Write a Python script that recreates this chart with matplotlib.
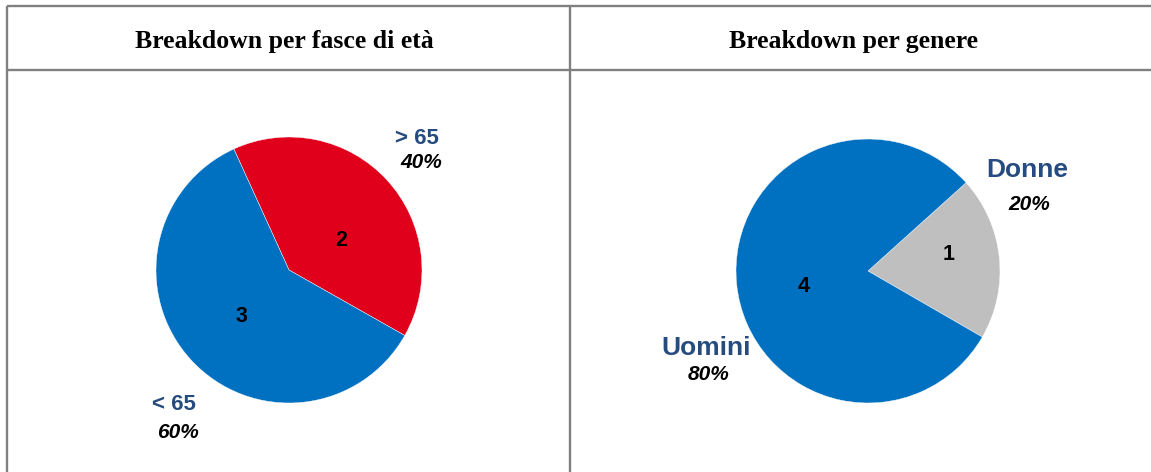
import matplotlib
matplotlib.use("Agg")
import matplotlib.pyplot as plt

# Data
age_categories = ["> 65", "< 65"]
age_values = [2, 3]
gender_categories = ["Donne", "Uomini"]
gender_values = [1, 4]
titles = ["Breakdown per fasce di età", "Breakdown per genere"]

age_colors = ["#E0001B", "#0070C0"]
gender_colors = ["#BFBFBF", "#0070C0"]
label_blue = "#264B7E"

W, H = 1151, 472
fig = plt.figure(figsize=(W / 100, H / 100), dpi=100)
ax = fig.add_axes([0, 0, 1, 1])
ax.set_xlim(0, W)
ax.set_ylim(0, H)
ax.set_aspect("equal")
ax.axis("off")

def Y(y):
    return H - y

# table lines
lc = "#808080"
lw = 1.7
ax.plot([7, W], [Y(6), Y(6)], color=lc, lw=lw, solid_capstyle="butt")
ax.plot([7, W], [Y(70), Y(70)], color=lc, lw=lw, solid_capstyle="butt")
ax.plot([7, 7], [Y(6), Y(H + 5)], color=lc, lw=lw, solid_capstyle="butt")
ax.plot([570, 570], [Y(6), Y(H + 5)], color=lc, lw=lw, solid_capstyle="butt")

serif = ["Liberation Serif", "DejaVu Serif"]
sans = ["Liberation Sans", "DejaVu Sans"]
ax.text(284, Y(48), titles[0], ha="center", va="baseline", fontsize=18.5,
        fontweight="bold", family=serif)
ax.text(854, Y(48), titles[1], ha="center", va="baseline", fontsize=18.5,
        fontweight="bold", family=serif)

# pies
ax.pie(age_values, colors=age_colors, startangle=114.5, counterclock=False,
       center=(289, Y(270)), radius=133, frame=True,
       wedgeprops=dict(linewidth=0.3, edgecolor="white"))
ax.pie(gender_values, colors=gender_colors, startangle=42, counterclock=False,
       center=(868, Y(271)), radius=132, frame=True,
       wedgeprops=dict(linewidth=0.3, edgecolor="white"))
ax.set_xlim(0, W)
ax.set_ylim(0, H)
ax.axis("off")

age_total = sum(age_values)
gender_total = sum(gender_values)

# value labels inside
value_pos_age = [(341, 240), (241, 316)]
for v, (x, y) in zip(age_values, value_pos_age):
    ax.text(x, Y(y), str(v), ha="center", va="center", fontsize=15.5,
            fontweight="bold", family=sans, color="black")
value_pos_gender = [(949, 254), (804, 287)]
for v, (x, y) in zip(gender_values, value_pos_gender):
    ax.text(x, Y(y), str(v), ha="center", va="center", fontsize=15.5,
            fontweight="bold", family=sans, color="black")

# category + percentage labels
cat_pos_age = [((417, 138), (421, 163)), ((174, 405), (178, 432))]
for c, v, (p1, p2) in zip(age_categories, age_values, cat_pos_age):
    ax.text(p1[0], Y(p1[1]), c, ha="center", va="center", fontsize=16,
            fontweight="bold", family=sans, color=label_blue)
    ax.text(p2[0], Y(p2[1]), f"{round(100 * v / age_total)}%", ha="center",
            va="center", fontsize=15, fontweight="bold", style="italic",
            family=sans, color="black")

cat_pos_gender = [((1027, 170), (1029, 205)), ((706, 348), (709, 375))]
for c, v, (p1, p2) in zip(gender_categories, gender_values, cat_pos_gender):
    ax.text(p1[0], Y(p1[1]), c, ha="center", va="center", fontsize=19,
            fontweight="bold", family=sans, color=label_blue)
    ax.text(p2[0], Y(p2[1]), f"{round(100 * v / gender_total)}%", ha="center",
            va="center", fontsize=15, fontweight="bold", style="italic",
            family=sans, color="black")

fig.savefig("out.png", dpi=100)
